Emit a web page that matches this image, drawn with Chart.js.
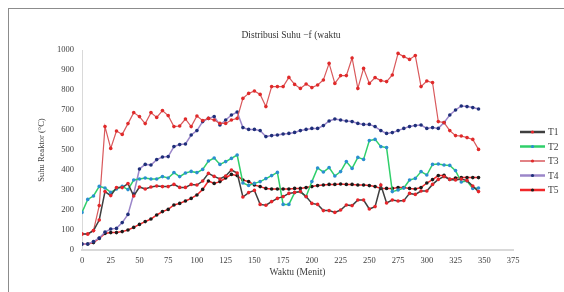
<!DOCTYPE html>
<html>
<head>
<meta charset="utf-8">
<script src="https://cdn.jsdelivr.net/npm/chart.js@4.4.1/dist/chart.umd.min.js"></script>
<style>
  html, body { margin:0; padding:0; background:#ffffff; }
  #wrap { position:relative; width:564px; height:292px; overflow:hidden; }
  #frame { position:absolute; left:8px; top:8px; width:600px; height:320px;
           border-left:1.5px solid #8c8c8c; border-top:1.5px solid #8c8c8c; }
  canvas { position:absolute; left:0; top:0; }
</style>
</head>
<body>
<div id="wrap">
  <div id="frame"></div>
  <canvas id="c" width="564" height="292"></canvas>
</div>
<script>
const minutes = [0,5,10,15,20,25,30,35,40,45,50,55,60,65,70,75,80,85,90,95,
  100,105,110,115,120,125,130,135,140,145,150,155,160,165,170,175,180,185,190,195,
  200,205,210,215,220,225,230,235,240,245,250,255,260,265,270,275,280,285,290,295,
  300,305,310,315,320,325,330,335,340,345];

const T1 = [80,80,97,150,292,272,312,312,332,270,315,305,315,320,317,317,328,313,313,328,
  325,345,383,368,355,370,400,385,265,287,298,228,224,242,258,267,283,288,292,267,
  233,228,197,197,188,200,225,222,250,250,205,217,325,235,250,245,247,283,278,295,
  295,328,353,367,353,350,355,347,320,292];
const T2 = [188,253,270,318,310,288,305,318,302,350,355,360,355,355,367,360,387,367,385,393,
  387,403,445,460,428,442,458,475,335,323,333,342,357,372,388,228,228,287,292,267,
  342,410,390,412,370,392,442,408,463,453,547,553,517,512,292,300,310,350,358,392,
  375,428,430,425,423,397,340,345,308,310];
const T3 = [80,80,97,222,617,508,595,578,632,687,667,632,687,663,697,672,617,620,655,617,
  670,647,658,650,633,633,650,658,758,783,795,778,717,817,817,817,863,828,808,830,
  812,825,850,933,833,872,872,960,808,908,833,862,847,842,875,983,967,953,972,817,
  845,837,642,637,597,572,570,562,553,503];
const T4 = [30,30,42,60,90,105,108,137,178,280,405,428,425,452,465,467,517,527,530,575,
  597,642,658,667,625,650,675,690,612,603,603,597,567,572,575,580,583,588,597,603,
  608,608,622,645,655,650,645,642,633,628,628,617,597,583,587,597,608,617,622,625,
  608,612,608,637,675,700,720,717,712,705];
const T5 = [30,30,37,58,83,87,87,92,100,113,128,142,155,175,192,203,225,233,245,258,
  275,303,345,333,342,360,378,372,350,342,325,317,308,305,305,305,305,308,308,312,
  317,322,325,328,328,330,328,328,325,325,322,317,308,308,308,312,312,308,305,312,
  335,352,372,373,353,360,362,362,362,362];

const seriesNames = ['T1','T2','T3','T4','T5'];
const xTicks = [0,25,50,75,100,125,150,175,200,225,250,275,300,325,350,375];
const yTicks = [0,100,200,300,400,500,600,700,800,900,1000];

const FONT = "'Liberation Serif', 'Times New Roman', serif";

function pts(arr) { return minutes.map((m, i) => ({x: m, y: arr[i]})); }

const styles = [
  {line:'#3f3f3f', pt:'#e8242a', w:1.5},
  {line:'#2fcf6a', pt:'#2a8fd0', w:1.5},
  {line:'#d9595c', pt:'#e02a2a', w:1.2},
  {line:'#9b86c9', pt:'#1f2f7a', w:1.5},
  {line:'#f0282a', pt:'#1a1a1a', w:1.5}
];
const allData = [T1, T2, T3, T4, T5];

const datasets = allData.map((d, i) => ({
  label: seriesNames[i],
  data: pts(d),
  borderColor: styles[i].line,
  backgroundColor: styles[i].pt,
  pointBackgroundColor: styles[i].pt,
  pointBorderColor: styles[i].pt,
  pointRadius: 1.8,
  pointBorderWidth: 0,
  borderWidth: styles[i].w,
  tension: 0,
  fill: false
}));

const extras = {
  id: 'extras',
  afterDraw(chart) {
    const ctx = chart.ctx;
    ctx.save();
    ctx.fillStyle = '#333333';
    ctx.font = "9.5px " + FONT;
    ctx.textAlign = 'center';
    ctx.textBaseline = 'middle';
    ctx.fillText('Distribusi Suhu \u2212f (waktu', 291, 35);
    const ys = [132, 146.5, 161, 175.5, 190];
    chart.data.datasets.forEach((ds, i) => {
      const y = ys[i];
      ctx.strokeStyle = ds.borderColor;
      ctx.lineWidth = i === 2 ? 1.5 : 2.5;
      ctx.beginPath(); ctx.moveTo(520, y); ctx.lineTo(545, y); ctx.stroke();
      ctx.fillStyle = ds.pointBackgroundColor;
      ctx.beginPath(); ctx.arc(532.5, y, 1.6, 0, Math.PI * 2); ctx.fill();
      ctx.fillStyle = '#404040';
      ctx.font = "9.5px " + FONT;
      ctx.textAlign = 'left';
      ctx.fillText(ds.label, 548, y + 0.5);
    });
    ctx.restore();
  }
};

new Chart(document.getElementById('c'), {
  type: 'line',
  data: { datasets },
  options: {
    responsive: false,
    animation: false,
    layout: { padding: { top: 50, right: 51, bottom: 0, left: 0 } },
    plugins: { legend: { display: false }, tooltip: { enabled: false }, title: { display: false } },
    scales: {
      x: {
        type: 'linear', min: 0, max: 375,
        afterFit(s) { s.height = 42; },
        afterBuildTicks(s) { s.ticks = xTicks.map(v => ({value: v})); },
        grid: { display: false, drawTicks: false },
        border: { display: true, color: '#d9d9d9', width: 2 },
        ticks: { color: '#404040', font: { family: FONT, size: 8.5 }, padding: 6, maxRotation: 0, autoSkip: false,
                 callback: v => String(v) },
        title: { display: true, text: 'Waktu (Menit)', color: '#404040',
                 font: { family: FONT, size: 9.5 }, padding: { top: 0, bottom: 14 } }
      },
      y: {
        min: 0, max: 1000,
        afterFit(s) { s.width = 82; },
        afterBuildTicks(s) { s.ticks = yTicks.map(v => ({value: v})); },
        grid: { display: false, drawTicks: false },
        border: { display: true, color: '#d9d9d9', width: 1 },
        ticks: { color: '#404040', font: { family: FONT, size: 8.5 }, padding: 8, autoSkip: false,
                 callback: v => String(v) },
        title: { display: true, text: 'Suhu Reaktor (\u00B0C)', color: '#404040',
                 font: { family: FONT, size: 8.5 }, padding: { top: 37, bottom: 0 } }
      }
    }
  },
  plugins: [extras]
});
</script>
</body>
</html>
